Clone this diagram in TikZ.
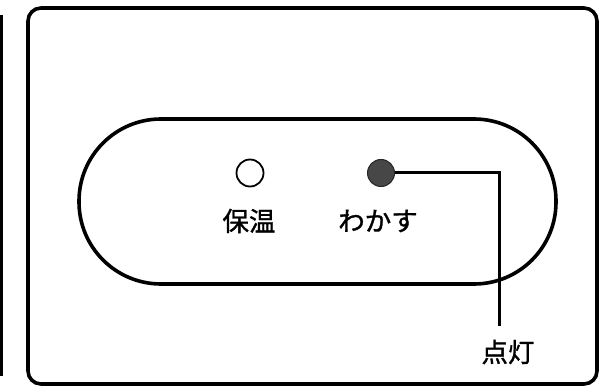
\documentclass[tikz,border=0pt]{standalone}
\usepackage{fontspec}
\newfontfamily\cjk[FakeBold=1.2]{Noto Sans CJK JP}
\begin{document}
\begin{tikzpicture}[x=1pt,y=-1pt,
  frame/.style={draw=black,line width=3.6pt},
  lamp/.style={circle,minimum size=27pt,inner sep=0pt},
  lbl/.style={font=\cjk\fontsize{26.5}{28}\selectfont,inner sep=0pt,text=black},
  leader/.style={draw=black,line width=3pt}]
\useasboundingbox (0,0) rectangle (601,387);
% left edge line
\draw[line width=2.4pt] (1.5,15) -- (1.5,376);
% outer frame
\draw[frame,rounded corners=13pt] (28,8) rectangle (597,384);
% pill
\draw[frame,rounded corners=82pt] (79,119) rectangle (556,284);
% lamps
\node[lamp,draw=black,line width=1.8pt] (keep) at (250,173) {};
\node[lamp,fill=black!72,draw=black!85,line width=1pt] (boil) at (381,173) {};
% labels
\node[lbl] (keepl) at (249,221) {保温};
\node[lbl] (boill) at (378,221) {わかす};
\node[lbl] (lit) at (508,352) {点灯};
% leader
\coordinate (bend) at (499,173);
\coordinate (lend) at (499,326);
\draw[leader] (boil.east) -- (bend) -- (lend);
\end{tikzpicture}
\end{document}
